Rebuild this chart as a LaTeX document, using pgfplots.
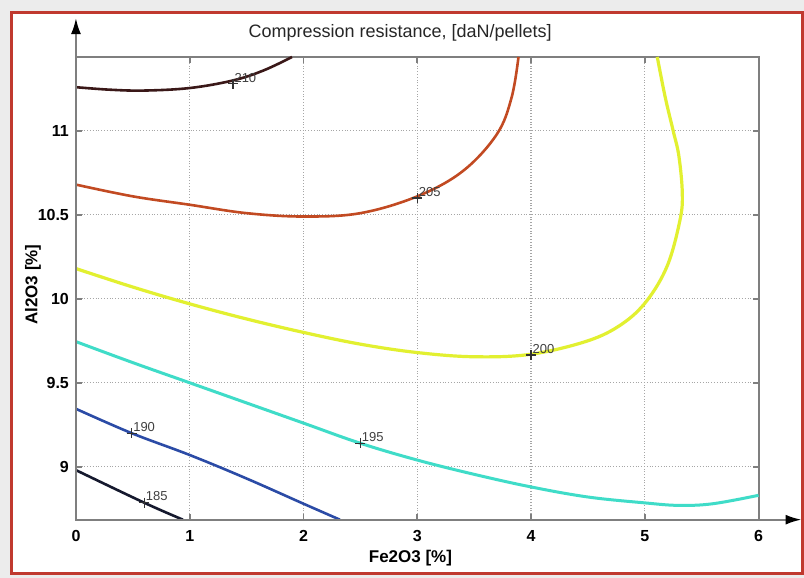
\documentclass[border=0pt]{standalone}
\usepackage{fontspec}
\setmainfont{Liberation Sans}
\usepackage{pgfplots}
\pgfplotsset{compat=1.18}
\usetikzlibrary{arrows.meta}

\definecolor{framered}{HTML}{C0392F}
\definecolor{c210}{HTML}{3A1818}
\definecolor{c205}{HTML}{C24A22}
\definecolor{c200}{HTML}{E2F030}
\definecolor{c195}{HTML}{3FDCC8}
\definecolor{c190}{HTML}{2B4BA6}
\definecolor{c185}{HTML}{15192E}
\definecolor{axgray}{HTML}{7F7F7F}

\begin{document}
\begin{tikzpicture}[x=1pt,y=1pt]
% background and red frame
\fill[gray!15] (-38,-29) rectangle (364,260);
\draw[framered, line width=1.5pt, fill=white] (-32,-27) rectangle (363.5,253.5);
\begin{axis}[
    at={(0,0)}, anchor=south west,
    scale only axis,
    width=341.5pt, height=231.5pt,
    xmin=0, xmax=6, ymin=8.685, ymax=11.44,
    xtick={0,1,2,3,4,5,6},
    ytick={9,9.5,10,10.5,11},
    grid=major,
    grid style={densely dotted, gray!70, line width=0.6pt},
    axis line style={axgray, line width=1pt},
    tick style={axgray, line width=0.8pt},
    major tick length=3pt,
    ticklabel style={font=\fontsize{8}{9}\selectfont\bfseries},
    xticklabel style={yshift=-2pt},
    /pgf/number format/assume math mode=true,
    /pgf/number format/fixed,
    every axis title shift=0pt,
    title={Compression resistance, [daN/pellets]},
    title style={font=\fontsize{9}{11}\selectfont, text=black!85,
        at={(axis description cs:0.475,1.043)}, anchor=base},
    xlabel={Fe2O3 [\%]},
    xlabel style={font=\fontsize{8.5}{10}\selectfont\bfseries,
        at={(axis description cs:0.49,-0.083)}, anchor=center},
    ylabel={Al2O3 [\%]},
    ylabel style={font=\fontsize{8.5}{10}\selectfont\bfseries,
        at={(axis description cs:-0.063,0.508)}, anchor=center},
    clip=false,
    curve/.style={line width=1.3pt, mark=none, smooth, tension=0.6},
]
% contour 210
\addplot[curve, c210] coordinates {(0,11.26) (0.3,11.245) (0.6,11.24) (1.0,11.255) (1.38,11.30) (1.65,11.36) (1.9,11.44)};
% contour 205
\addplot[curve, c205] coordinates {(0,10.68) (0.5,10.61) (1,10.56) (1.5,10.51) (2,10.49) (2.5,10.51) (3,10.61) (3.4,10.76) (3.7,10.98) (3.83,11.2) (3.89,11.44)};
% contour 200
\addplot[curve, c200, line width=1.6pt] coordinates {(0,10.18) (0.5,10.07) (1,9.97) (1.5,9.88) (2,9.80) (2.5,9.73) (3,9.68) (3.5,9.655) (4,9.67) (4.5,9.75) (4.8,9.85) (5.02,9.99) (5.2,10.2) (5.31,10.47) (5.33,10.63) (5.3,10.85) (5.25,11.0) (5.18,11.2) (5.11,11.44)};
% contour 195
\addplot[curve, c195, line width=1.5pt] coordinates {(0,9.745) (0.5,9.62) (1,9.5) (1.5,9.38) (2,9.26) (2.5,9.14) (3,9.04) (3.5,8.955) (4,8.88) (4.5,8.82) (5,8.785) (5.3,8.77) (5.6,8.78) (6,8.83)};
% contour 190
\addplot[curve, c190] coordinates {(0,9.345) (0.49,9.2) (1,9.07) (1.5,8.93) (2,8.78) (2.32,8.685)};
% contour 185
\addplot[curve, c185] coordinates {(0,8.98) (0.6,8.786) (0.94,8.685)};
% contour labels
\pgfplotsset{lbl/.style={only marks, mark=+, mark size=2.5pt, black!80,
    mark options={line width=0.6pt},
    nodes near coords={#1}, nodes near coords style={anchor=south west, inner sep=0.5pt,
    font=\fontsize{6.5}{7}\selectfont, text=black!75}}}
\addplot[lbl=210] coordinates {(1.38,11.28)};
\addplot[lbl=205] coordinates {(3.0,10.6)};
\addplot[lbl=200] coordinates {(4.0,9.665)};
\addplot[lbl=195] coordinates {(2.5,9.14)};
\addplot[lbl=190] coordinates {(0.49,9.2)};
\addplot[lbl=185] coordinates {(0.6,8.786)};
% axis arrows
\draw[axgray, line width=1pt, -{Latex[black, length=8pt, width=5pt]}] (rel axis cs:0,0) -- (rel axis cs:1.063,0);
\draw[axgray, line width=1pt, -{Latex[black, length=8pt, width=5pt]}] (rel axis cs:0,0) -- (rel axis cs:0,1.084);
\end{axis}
\useasboundingbox (-38,-29) rectangle (364,260);
\end{tikzpicture}
\end{document}
